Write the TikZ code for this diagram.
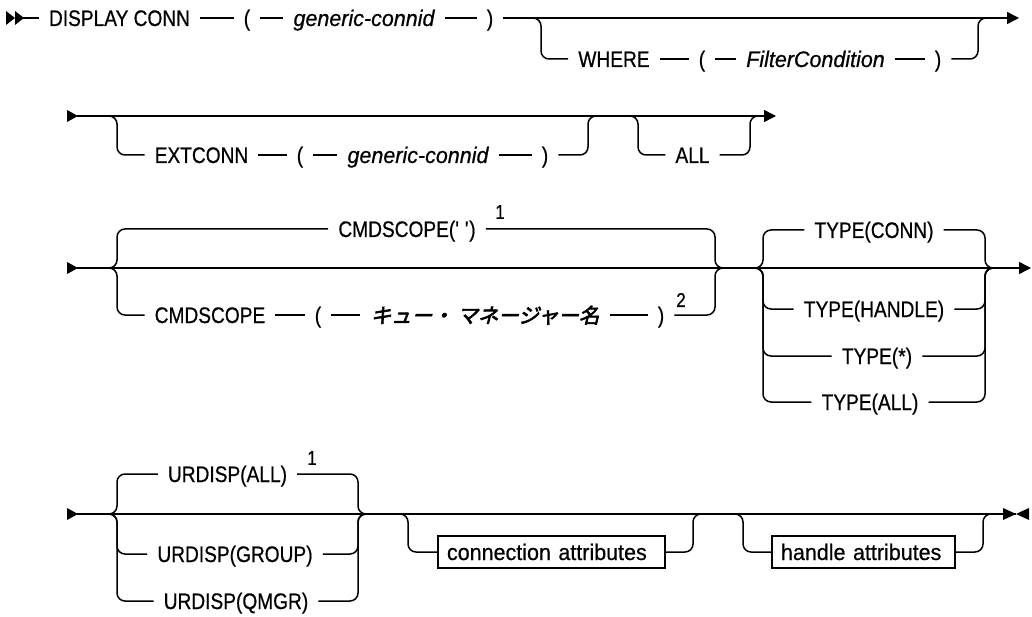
\documentclass[tikz,border=0pt]{standalone}
\usepackage{fontspec}
\setmainfont[FakeStretch=0.85,FakeBold=0.6]{Liberation Sans}
\newfontfamily\widefont[FakeStretch=0.955,FakeBold=0.6]{Liberation Sans}
\newfontfamily\jpfont[FakeSlant=0.25,FakeBold=3]{Noto Sans CJK JP}
\usetikzlibrary{arrows.meta}
\begin{document}
\begin{tikzpicture}[x=1pt,y=-1pt,
  rail/.style={line width=1.5pt, rounded corners=8pt},
  endarrow/.style={-{Triangle[length=12pt,width=12pt]}},
  tok/.style={inner xsep=10pt, inner ysep=0pt, text height=16pt, text depth=0pt, font=\fontsize{22.5}{26}\selectfont},
  itok/.style={tok, font=\widefont\itshape\fontsize{22.5}{26}\selectfont},
  jtok/.style={tok, font=\jpfont\fontsize{20.5}{24}\selectfont},
  box/.style={draw, line width=1.5pt, inner xsep=9pt, inner ysep=8pt, text height=16pt, text depth=0pt, align=left, font=\widefont\fontsize{22.5}{26}\selectfont},
  note/.style={inner sep=0pt, font=\fontsize{20}{22}\selectfont}]
\useasboundingbox (0,0) rectangle (1032,617);

% ---------- Row 1 ----------
\fill (6,11) -- (15,18) -- (6,25) -- cycle;
\fill (15,11) -- (24,18) -- (15,25) -- cycle;
\coordinate (s1) at (23,18);
\coordinate (e1) at (1019,18);
\node[tok] (dc) at (119.5,18) {DISPLAY CONN};
\node[tok] (lp1) at (247,18) {(};
\node[itok] (gc1) at (364,18) {generic-connid};
\node[tok] (rp1) at (490,18) {)};
\draw[rail] (s1) -- (dc);
\draw[rail] (dc) -- (lp1);
\draw[rail] (lp1) -- (gc1);
\draw[rail] (gc1) -- (rp1);
\draw[rail,endarrow] (rp1) -- (e1);

\node[tok] (wh) at (614,59) {WHERE};
\node[tok] (lp2) at (702,59) {(};
\node[itok] (fc) at (815.5,59) {FilterCondition};
\node[tok] (rp2) at (938,59) {)};
\draw[rail] (533,18) -- (541,18) -- (541,59) -- (wh);
\draw[rail] (wh) -- (lp2);
\draw[rail] (lp2) -- (fc);
\draw[rail] (fc) -- (rp2);
\draw[rail] (rp2) -- (978,59) -- (978,18) -- (986,18);

% ---------- Row 2 ----------
\fill (67,110) -- (78,116) -- (67,122) -- cycle;
\coordinate (s2) at (77,116);
\coordinate (e2) at (776,116);
\draw[rail,endarrow] (s2) -- (e2);
\node[tok] (ext) at (201.5,155) {EXTCONN};
\node[tok] (lp3) at (300,155) {(};
\node[itok] (gc2) at (418,155) {generic-connid};
\node[tok] (rp3) at (545,155) {)};
\draw[rail] (109,116) -- (117,116) -- (117,155) -- (ext);
\draw[rail] (ext) -- (lp3);
\draw[rail] (lp3) -- (gc2);
\draw[rail] (gc2) -- (rp3);
\draw[rail] (rp3) -- (588,155) -- (588,116) -- (596,116);
\node[tok] (all) at (692.5,155) {ALL};
\draw[rail] (630,116) -- (638,116) -- (638,155) -- (all);
\draw[rail] (all) -- (750,155) -- (750,116) -- (758,116);

% ---------- Row 3 ----------
\fill (67,262) -- (78,268) -- (67,274) -- cycle;
\coordinate (s3) at (77,268);
\coordinate (e3) at (1031,268);
\draw[rail,endarrow] (s3) -- (e3);
\node[tok] (cs1) at (407,229) {CMDSCOPE(\textquotesingle\ \textquotesingle)};
\node[note] (n1) at (500,212) {1};
\draw[rail] (109,268) -- (117,268) -- (117,229) -- (cs1);
\draw[rail] (cs1) -- (715,229) -- (715,268) -- (723,268);
\node[tok] (cs2) at (210,315) {CMDSCOPE};
\node[tok] (lp4) at (318,315) {(};
\node[jtok] (qm) at (485,315) {キュー・ マネージャー名};
\node[tok] (rp4) at (661,315) {)};
\node[note] (n2) at (681,300) {2};
\draw[rail] (109,268) -- (117,268) -- (117,315) -- (cs2);
\draw[rail] (cs2) -- (lp4);
\draw[rail] (lp4) -- (qm);
\draw[rail] (qm) -- (rp4);
\draw[rail] (rp4) -- (715,315) -- (715,268) -- (723,268);

\node[tok] (t1) at (874,230) {TYPE(CONN)};
\node[tok] (t2) at (874,309) {TYPE(HANDLE)};
\node[tok] (t3) at (877,356) {TYPE(*)};
\node[tok] (t4) at (870,402) {TYPE(ALL)};
\foreach \t/\yy in {t1/230,t2/309,t3/356,t4/402}{
  \draw[rail] (755,268) -- (763,268) -- (763,\yy) -- (\t);
  \draw[rail] (\t) -- (985,\yy) -- (985,268) -- (993,268);
}

% ---------- Row 4 ----------
\fill (67,508) -- (78,514) -- (67,520) -- cycle;
\coordinate (s4) at (77,514);
\coordinate (e4) at (1016,514);
\draw[rail] (s4) -- (e4);
\fill (1003,508) -- (1016,514) -- (1003,520) -- cycle;
\fill (1029,508) -- (1016,514) -- (1029,520) -- cycle;
\node[tok] (u1) at (227.5,474) {URDISP(ALL)};
\node[note] (n3) at (312,458) {1};
\node[tok] (u2) at (235,554) {URDISP(GROUP)};
\node[tok] (u3) at (236,601) {URDISP(QMGR)};
\foreach \u/\yy in {u1/474,u2/554,u3/601}{
  \draw[rail] (109,514) -- (117,514) -- (117,\yy) -- (\u);
  \draw[rail] (\u) -- (358,\yy) -- (358,514) -- (366,514);
}
\node[box, text width=209pt] (ca) at (551.5,552) {connection attributes};
\node[box, text width=165pt] (ha) at (863.5,552) {handle attributes};
\draw[rail] (400,514) -- (408,514) -- (408,552) -- (ca);
\draw[rail] (ca) -- (693,552) -- (693,514) -- (701,514);
\draw[rail] (735,514) -- (743,514) -- (743,552) -- (ha);
\draw[rail] (ha) -- (983,552) -- (983,514) -- (991,514);
\end{tikzpicture}
\end{document}
